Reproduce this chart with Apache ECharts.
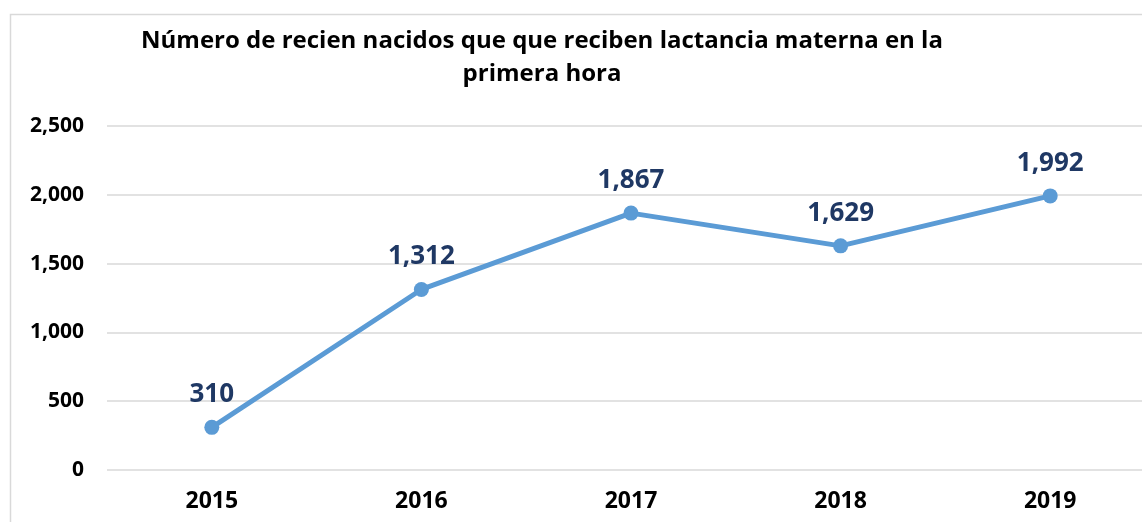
<!DOCTYPE html>
<html>
<head>
<meta charset="utf-8">
<script src="https://cdn.jsdelivr.net/npm/echarts@6/dist/echarts.min.js"></script>
<style>
  html, body { margin: 0; padding: 0; background: #fff; }
  #main { width: 1142px; height: 522px; }
</style>
</head>
<body>
<div id="main"></div>
<script>
const years = ['2015', '2016', '2017', '2018', '2019'];
const nacidos = [310, 1312, 1867, 1629, 1992];

const chart = echarts.init(document.getElementById('main'));
chart.setOption({
  backgroundColor: '#fff',
  animation: false,
  graphic: [{
    type: 'rect',
    shape: { x: 10.5, y: 14.5, width: 1200, height: 600 },
    style: { fill: 'none', stroke: '#d9d9d9', lineWidth: 1.5 },
    silent: true
  }],
  title: {
    text: 'Número de recien nacidos que que reciben lactancia materna en la\nprimera hora',
    left: 537,
    textAlign: 'center',
    top: 20,
    textStyle: {
      fontFamily: 'Open Sans',
      fontWeight: 'bold',
      fontSize: 24,
      lineHeight: 33,
      color: '#000'
    }
  },
  grid: { left: 107, width: 1048, top: 126, bottom: 52, outerBoundsMode: 'none' },
  xAxis: {
    type: 'category',
    data: years,
    boundaryGap: true,
    axisLine: { show: false },
    axisTick: { show: false },
    axisLabel: {
      margin: 20,
      fontFamily: 'Open Sans',
      fontWeight: 'bold',
      fontSize: 23,
      color: '#000'
    }
  },
  yAxis: {
    type: 'value',
    min: 0,
    max: 2500,
    interval: 500,
    axisLine: { show: false },
    axisTick: { show: false },
    splitLine: { lineStyle: { color: '#d9d9d9', width: 1.5 } },
    axisLabel: {
      margin: 23,
      fontFamily: 'Open Sans',
      fontWeight: 'bold',
      fontSize: 21,
      color: '#000',
      formatter: v => v.toLocaleString('en-US')
    }
  },
  series: [{
    type: 'line',
    data: nacidos,
    symbol: 'circle',
    symbolSize: 15,
    lineStyle: { color: '#5b9bd5', width: 5 },
    itemStyle: { color: '#5b9bd5' },
    label: {
      show: true,
      position: 'top',
      distance: 12,
      fontFamily: 'Open Sans',
      fontWeight: 'bold',
      fontSize: 26,
      color: '#1f3864',
      formatter: p => p.value.toLocaleString('en-US')
    }
  }]
});
</script>
</body>
</html>
